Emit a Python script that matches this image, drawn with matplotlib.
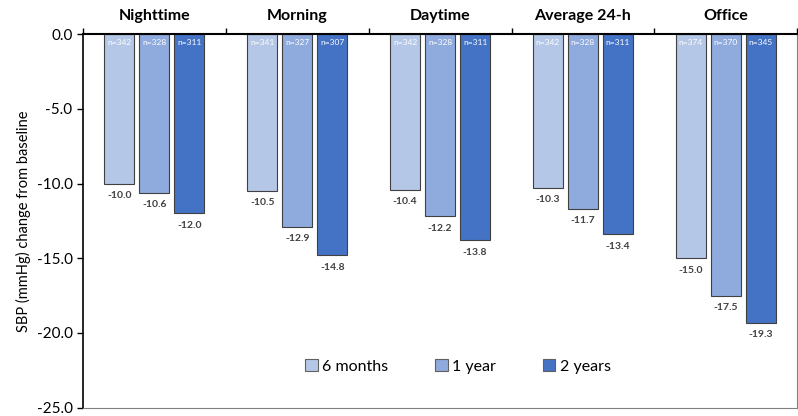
import matplotlib.pyplot as plt
import numpy as np

plt.rcParams['font.family'] = ['Lato', 'DejaVu Sans']

categories = ['Nighttime', 'Morning', 'Daytime', 'Average 24-h', 'Office']
periods = ['6 months', '1 year', '2 years']
values = [
    [-10.0, -10.5, -10.4, -10.3, -15.0],
    [-10.6, -12.9, -12.2, -11.7, -17.5],
    [-12.0, -14.8, -13.8, -13.4, -19.3],
]
counts = [
    [342, 341, 342, 342, 374],
    [328, 327, 328, 328, 370],
    [311, 307, 311, 311, 345],
]
colors = ['#B4C7E7', '#8FAADC', '#4472C4']

fig = plt.figure(figsize=(7.98, 4.16), dpi=100)
ax = fig.add_axes([0.104, 0.02, 0.895, 0.898])

x = np.arange(len(categories))
w = 0.21
step = 0.245
for i, (vals, ns) in enumerate(zip(values, counts)):
    xs = x + (i - 1) * step
    ax.bar(xs, vals, w, color=colors[i], edgecolor='#404040', linewidth=0.8,
           label=periods[i], zorder=2)
    for xi, v, n in zip(xs, vals, ns):
        ax.text(xi, v - 0.5, f'{v:.1f}', ha='center', va='top', fontsize=7.5,
                fontweight='bold', color='#404040')
        ax.text(xi, -0.35, f'n={n}', ha='center', va='top', fontsize=6,
                color='white')

ax.set_xlim(-0.5, len(categories) - 0.5)
ax.set_ylim(-25, 0)
ax.set_yticks(np.arange(-25, 0.1, 5))
ax.set_yticklabels([f'{t:.1f}' for t in np.arange(-25, 0.1, 5)], fontsize=11)
ax.set_ylabel('SBP (mmHg) change from baseline', fontsize=10.5)

# category labels on top, ticks at group boundaries
ax.xaxis.tick_top()
ax.set_xticks(np.arange(-0.5, len(categories), 1.0))
ax.set_xticklabels([])
ax.tick_params(axis='x', direction='out', length=4, width=1, color='black')
ax.tick_params(axis='y', direction='out', length=4, width=1)
for xi, c in zip(x, categories):
    ax.text(xi, 0.75, c, ha='center', va='bottom', fontsize=11.5,
            fontweight='bold')

ax.spines['top'].set_color('black')
ax.spines['top'].set_linewidth(1.5)
ax.spines['left'].set_color('black')
ax.spines['left'].set_linewidth(1.2)
ax.spines['bottom'].set_color('#808080')
ax.spines['right'].set_color('#808080')

ax.legend(loc='center', bbox_to_anchor=(0.525, 0.11), ncol=3, frameon=False,
          fontsize=11.5, handlelength=0.8, handleheight=0.8, columnspacing=2.9,
          handletextpad=0.3)
for h in ax.get_legend().legend_handles:
    h.set_edgecolor('#606060')

fig.savefig('out.png', dpi=100)
